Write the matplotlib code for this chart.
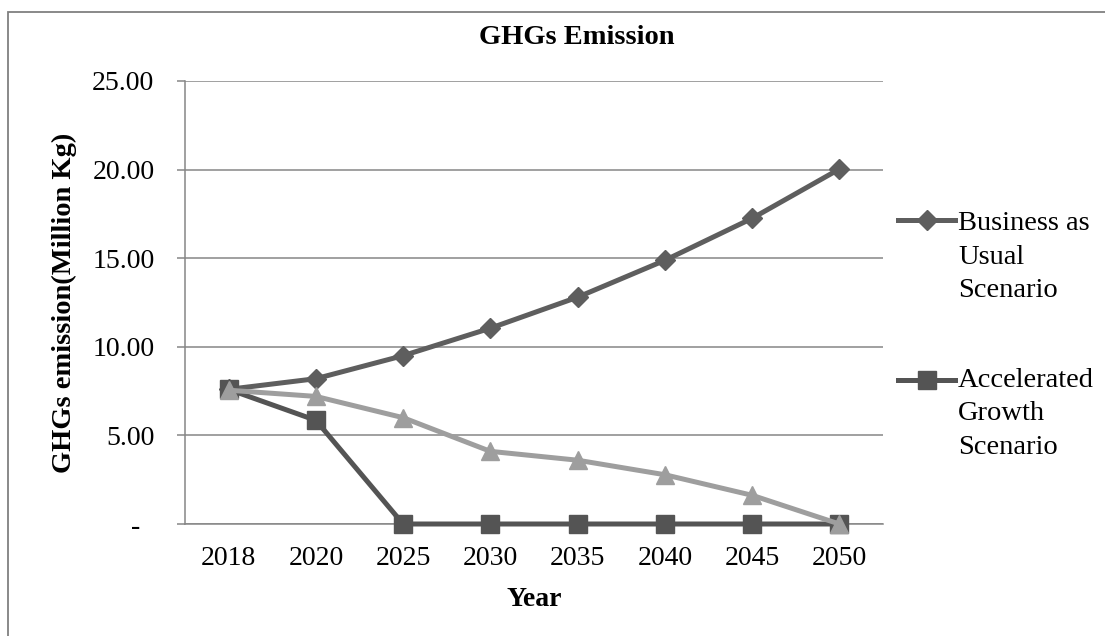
import matplotlib
matplotlib.use("Agg")
import matplotlib.pyplot as plt
from matplotlib.lines import Line2D
from matplotlib.patches import Rectangle
from matplotlib.ticker import FuncFormatter

# emissions in million kg per year
years = ['2018', '2020', '2025', '2030', '2035', '2040', '2045', '2050']
bau_vals = [7.60, 8.20, 9.50, 11.05, 12.80, 14.88, 17.25, 20.03]
accel_vals = [7.60, 5.85, 0.00, 0.00, 0.00, 0.00, 0.00, 0.00]
mid_vals = [7.55, 7.20, 6.00, 4.10, 3.60, 2.78, 1.62, 0.00]
bau_label = 'Business as\nUsual\nScenario'
accel_label = 'Accelerated\nGrowth\nScenario'

W, H = 1105, 636
plt.rcParams['font.family'] = ['Liberation Serif', 'DejaVu Serif']
GRID = '#868686'

fig = plt.figure(figsize=(W / 100, H / 100), dpi=100)
ax = fig.add_axes([185 / W, 1 - 524 / H, 698 / W, 443 / H])

x = list(range(len(years)))
styles = [
    (bau_vals, 'D', 10.5, '#5e5e5e'),
    (accel_vals, 's', 13.5, '#545454'),
    (mid_vals, '^', 13.5, '#9e9e9e'),
]
for vals, mk, ms, col in styles:
    ax.plot(x, vals, color=col, lw=3.6, marker=mk, ms=ms, mec=col, mfc=col,
            clip_on=False, zorder=3)

ax.set_xlim(-0.5, len(years) - 0.5)
ax.set_ylim(0, 25)
ax.set_yticks([0, 5, 10, 15, 20, 25])
ax.yaxis.set_major_formatter(FuncFormatter(lambda v, p: '-  ' if v == 0 else f'{v:.2f}'))
ax.set_xticks(x)
ax.set_xticklabels(years)
ax.tick_params(axis='y', length=6, width=1.1, color=GRID, labelsize=20, pad=16)
ax.tick_params(axis='x', length=0, labelsize=20, pad=16)

ax.grid(axis='y', color=GRID, lw=1.1)
ax.set_axisbelow(True)
for s in ['top', 'right']:
    ax.spines[s].set_visible(False)
for s in ['left', 'bottom']:
    ax.spines[s].set_color(GRID)
    ax.spines[s].set_linewidth(1.1)

ax.set_xlabel('Year', fontsize=20, fontweight='bold')
ax.xaxis.set_label_coords(0.5, -0.142)
ax.set_ylabel('GHGs emission(Million Kg)', fontsize=20.5, fontweight='bold')
ax.yaxis.set_label_coords(-0.155, 0.5)

fig.text(577 / W, 1 - 37 / H, 'GHGs Emission', fontsize=20.5, fontweight='bold',
         ha='center', va='center')

# legend entries, handle level with the first line of each label
for (vals, mk, ms, col), label, hy, ty in [
    (styles[0], bau_label, 220, 257),
    (styles[1], accel_label, 380, 414),
]:
    fig.add_artist(Line2D([898 / W, 955 / W], [1 - hy / H] * 2, color=col, lw=3.6,
                          transform=fig.transFigure))
    fig.add_artist(Line2D([926.5 / W], [1 - hy / H], color=col, marker=mk, ms=ms,
                          mec=col, mfc=col, transform=fig.transFigure))
    fig.text(958 / W, 1 - ty / H, label, fontsize=20.5, ha='left', va='center',
             linespacing=1.45)

# chart frame
fig.add_artist(Rectangle((8 / W, -0.1), 1.2, 1.1 - 12 / H, fill=False,
                         edgecolor='#808080', lw=1.3, transform=fig.transFigure))

fig.savefig('out.png', dpi=100)
